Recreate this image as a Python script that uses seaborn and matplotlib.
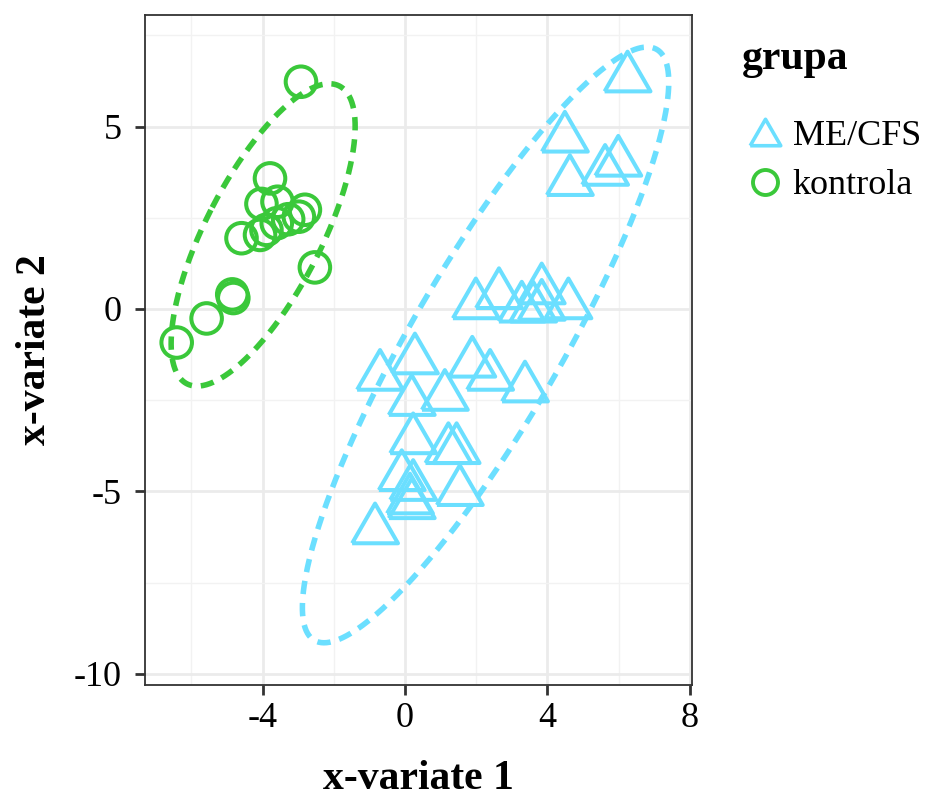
import numpy as np
import pandas as pd
import matplotlib
matplotlib.use("Agg")
import matplotlib.pyplot as plt
import seaborn as sns
from matplotlib.ticker import MultipleLocator
from matplotlib.lines import Line2D

# ---- data ----
groups = ["ME/CFS", "kontrola"]
mecfs_x = [1.99, 2.64, 3.28, 3.84, 3.84, 3.60, 4.59, 0.28, -0.70, 1.89, 2.39, 3.37,
           0.19, 1.12, 0.23, 1.22, 1.45, -0.09, 0.23, 0.14, 0.19, 1.54, -0.84,
           6.25, 4.49, 4.63, 5.62, 5.99]
mecfs_y = [0.29, 0.57, 0.20, 0.70, 0.25, 0.20, 0.29, -1.22, -1.67, -1.31, -1.67, -1.99,
           -2.36, -2.22, -3.41, -3.68, -3.68, -4.42, -4.69, -5.06, -5.19, -4.83, -5.88,
           6.51, 4.86, 3.67, 3.95, 4.20]
kontrola_x = [-2.92, -3.79, -4.03, -3.58, -2.81, -2.98, -3.28, -3.60, -3.89, -4.07,
              -4.59, -2.53, -4.85, -4.82, -5.57, -6.41]
kontrola_y = [6.23, 3.58, 2.88, 2.94, 2.72, 2.53, 2.46, 2.35, 2.17, 2.03,
              1.94, 1.14, 0.40, 0.30, -0.26, -0.92]
x_ticks = [-4, 0, 4, 8]
y_ticks = [5, 0, -5, -10]
x_label = "x-variate 1"
y_label = "x-variate 2"
legend_title = "grupa"

colors = {"ME/CFS": "#6BDFFF", "kontrola": "#3AC83A"}

df = pd.DataFrame({
    "x": mecfs_x + kontrola_x,
    "y": mecfs_y + kontrola_y,
    "grupa": ["ME/CFS"] * len(mecfs_x) + ["kontrola"] * len(kontrola_x),
})

sns.set_theme(style="white")
plt.rcParams["font.family"] = ["Liberation Serif", "DejaVu Serif"]
plt.rcParams["text.color"] = "black"
plt.rcParams["axes.labelcolor"] = "black"

fig = plt.figure(figsize=(9.31, 8.07), dpi=100)
ax = fig.add_axes([145 / 931, 1 - 685 / 807, (692 - 145) / 931, (685 - 15) / 807])

# grid
ax.set_axisbelow(True)
ax.xaxis.set_major_locator(MultipleLocator(4))
ax.xaxis.set_minor_locator(MultipleLocator(2))
ax.yaxis.set_major_locator(MultipleLocator(5))
ax.yaxis.set_minor_locator(MultipleLocator(2.5))
ax.grid(which="major", color="#EBEBEB", lw=2.0)
ax.grid(which="minor", color="#F2F2F2", lw=1.0)

# ellipses (95% normal confidence ellipse per group)
t = np.sqrt(5.991464547)
theta = np.linspace(0, 2 * np.pi, 400)
for g, xs, ys in [("ME/CFS", mecfs_x, mecfs_y), ("kontrola", kontrola_x, kontrola_y)]:
    pts = np.column_stack([xs, ys])
    mu = pts.mean(axis=0)
    cov = np.cov(pts.T)
    vals, vecs = np.linalg.eigh(cov)
    circ = np.column_stack([np.cos(theta), np.sin(theta)])
    ell = mu + t * (circ * np.sqrt(vals)) @ vecs.T
    ax.plot(ell[:, 0], ell[:, 1], color=colors[g], lw=4.0, ls=(0, (2.4, 1.6)),
            solid_capstyle="butt", dash_capstyle="butt", zorder=2)

tri = [(-1, -0.866), (1, -0.866), (0, 0.866), (-1, -0.866)]
markers = {"ME/CFS": tri, "kontrola": "o"}
sizes = {"ME/CFS": 33 ** 2, "kontrola": 22 ** 2}
for g in groups:
    sub = df[df["grupa"] == g]
    sns.scatterplot(data=sub, x="x", y="y", ax=ax, marker=markers[g], s=sizes[g],
                    facecolor="none", edgecolor=colors[g], linewidth=2.9,
                    legend=False, zorder=3)

ax.set_xlim(-7.3, 8.06)
ax.set_ylim(-10.31, 8.06)
ax.set_xticks(x_ticks)
ax.set_yticks(y_ticks)
ax.set_xticklabels([str(v) for v in x_ticks])
ax.set_yticklabels([str(v) for v in y_ticks])
ax.tick_params(axis="both", which="major", direction="out", length=7, width=2.0,
               color="#333333", labelsize=26, labelcolor="black",
               bottom=True, left=True)
ax.tick_params(axis="x", pad=5)
ax.tick_params(axis="y", pad=10)
ax.tick_params(which="minor", length=0)
for sp in ax.spines.values():
    sp.set_visible(True)
    sp.set_color("#333333")
    sp.set_linewidth(1.3)

ax.set_xlabel(x_label, fontsize=30, fontweight="bold", labelpad=18, color="black")
ax.set_ylabel(y_label, fontsize=30, fontweight="bold", labelpad=14, color="black")

handles = [
    Line2D([], [], ls="none", marker=tri, markersize=22, markerfacecolor="none",
           markeredgecolor=colors["ME/CFS"], markeredgewidth=2.6),
    Line2D([], [], ls="none", marker="o", markersize=18, markerfacecolor="none",
           markeredgecolor=colors["kontrola"], markeredgewidth=2.8),
]
leg = fig.legend(handles, groups, title=legend_title, loc="upper left",
                 bbox_to_anchor=(742 / 931, 1 - 40 / 807), frameon=False,
                 fontsize=26, title_fontproperties={"weight": "bold", "size": 30},
                 handletextpad=0.1, handlelength=1.3, labelspacing=0.45,
                 borderaxespad=0, borderpad=0, labelcolor="black")
leg.get_title().set_color("black")
leg._legend_box.align = "left"
leg._legend_box.sep = 30

fig.savefig("out.png", dpi=100)
